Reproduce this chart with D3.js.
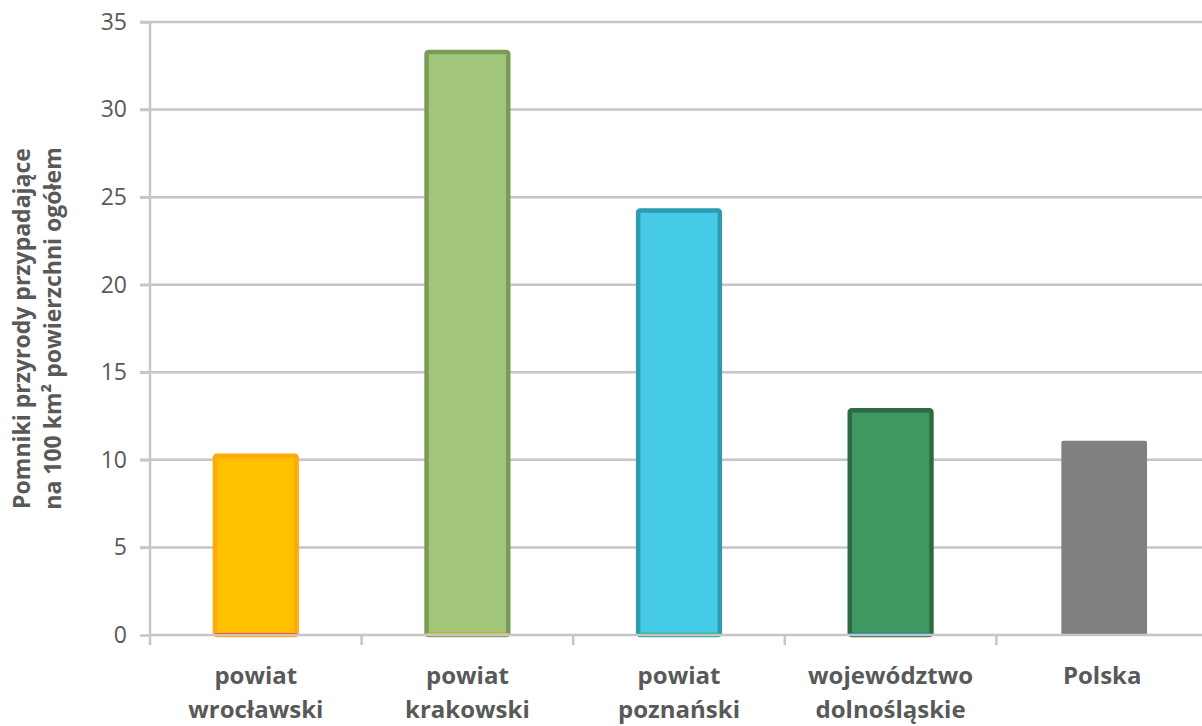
<!DOCTYPE html>
<html>
<head>
<meta charset="utf-8">
<script src="https://cdn.jsdelivr.net/npm/d3@7"></script>
<style>
  body { margin: 0; background: #fff; }
  text { font-family: "Open Sans", "Liberation Sans", sans-serif; fill: #595959; }
  .grid line { stroke: #c6c6c6; stroke-width: 2.5; }
  .axis path, .axis line { stroke: #c6c6c6; stroke-width: 2.5; }
</style>
</head>
<body>
<script>
// data
var categories = [["powiat", "wrocławski"], ["powiat", "krakowski"], ["powiat", "poznański"],
                  ["województwo", "dolnośląskie"], ["Polska"]];
var values = [10.35, 33.4, 24.35, 12.95, 11.2];
var yTicks = [0, 5, 10, 15, 20, 25, 30, 35];

var fills   = ["#ffc000", "#a2c679", "#46cbe8", "#3f9860", "#808080"];
var strokes = ["#ffa90a", "#7a9a58", "#2e9bb0", "#2c6b44", "none"];
var baseCol = ["#ff2a2a", "#f2b705", "#1fb35a", "#2a7fd6", "none"];

var margin = {top: 22, right: -6, bottom: 91, left: 150},
    width = 1202 - margin.left - margin.right,
    height = 726 - margin.top - margin.bottom;

var svg = d3.select("body").append("svg")
    .attr("width", 1202)
    .attr("height", 726)
  .append("g")
    .attr("transform", "translate(" + margin.left + "," + margin.top + ")");

var x = d3.scaleBand()
    .domain(d3.range(values.length))
    .range([0, width])
    .paddingInner(0.595)
    .paddingOuter(0.2975);

var y = d3.scaleLinear()
    .domain([0, 35])
    .range([height, 0]);

// gridlines
svg.append("g")
    .attr("class", "grid")
  .selectAll("line")
  .data(yTicks.slice(1))
  .enter().append("line")
    .attr("x1", -10)
    .attr("x2", width)
    .attr("y1", function(d) { return y(d); })
    .attr("y2", function(d) { return y(d); });

// bars
var bw = x.bandwidth();
svg.selectAll(".bar")
    .data(values)
  .enter().append("rect")
    .attr("class", "bar")
    .attr("x", function(d, i) { return x(i) + 2; })
    .attr("y", function(d) { return y(d) + 2; })
    .attr("width", function(d, i) { return strokes[i] == "none" ? bw : bw - 4; })
    .attr("height", function(d) { return y(0) - y(d) - 2; })
    .attr("rx", 2)
    .attr("fill", function(d, i) { return fills[i]; })
    .attr("stroke", function(d, i) { return strokes[i]; })
    .attr("stroke-width", 4.5);

// thin coloured line under each bar
svg.selectAll(".base")
    .data(values)
  .enter().append("line")
    .attr("class", "base")
    .attr("x1", function(d, i) { return x(i) + 2; })
    .attr("x2", function(d, i) { return x(i) + bw - 2; })
    .attr("y1", y(0) - 1)
    .attr("y2", y(0) - 1)
    .attr("stroke", function(d, i) { return baseCol[i]; })
    .attr("stroke-width", 2);

// x axis
var step = x.step();
var xAxis = svg.append("g")
    .attr("class", "axis")
    .attr("transform", "translate(0," + height + ")");
xAxis.append("line")
    .attr("x1", 0).attr("x2", width);
xAxis.selectAll(".tk")
  .data(d3.range(values.length + 1))
  .enter().append("line")
    .attr("class", "tk")
    .attr("x1", function(d) { return d * step; })
    .attr("x2", function(d) { return d * step; })
    .attr("y1", 0).attr("y2", 10);

xAxis.selectAll(".lbl")
  .data(categories)
  .enter().append("text")
    .attr("class", "lbl")
    .attr("text-anchor", "middle")
    .attr("x", function(d, i) { return x(i) + bw / 2; })
    .attr("y", 49)
    .style("font-size", "24px")
    .style("font-weight", "bold")
  .selectAll("tspan")
  .data(function(d) { return d; })
  .enter().append("tspan")
    .attr("x", function() { return d3.select(this.parentNode).attr("x"); })
    .attr("dy", function(d, i) { return i ? 34 : 0; })
    .text(function(d) { return d; });

// y axis
svg.append("g")
    .attr("class", "axis")
    .call(d3.axisLeft(y).tickValues(yTicks).tickSize(10).tickPadding(13))
    .call(function(g) { g.select(".domain").attr("d", "M0," + height + "V0"); })
    .selectAll("text")
      .style("font-size", "23px")
      .style("fill", "#595959");

// y title
var yt = svg.append("text")
    .attr("transform", "translate(-120," + (height / 2) + ") rotate(-90)")
    .attr("text-anchor", "middle")
    .style("font-size", "23px")
    .style("font-weight", "bold");
yt.append("tspan").attr("x", 0).attr("dy", 0).text("Pomniki przyrody przypadające");
yt.append("tspan").attr("x", 0).attr("dy", 31).text("na 100 km² powierzchni ogółem");
</script>
</body>
</html>
